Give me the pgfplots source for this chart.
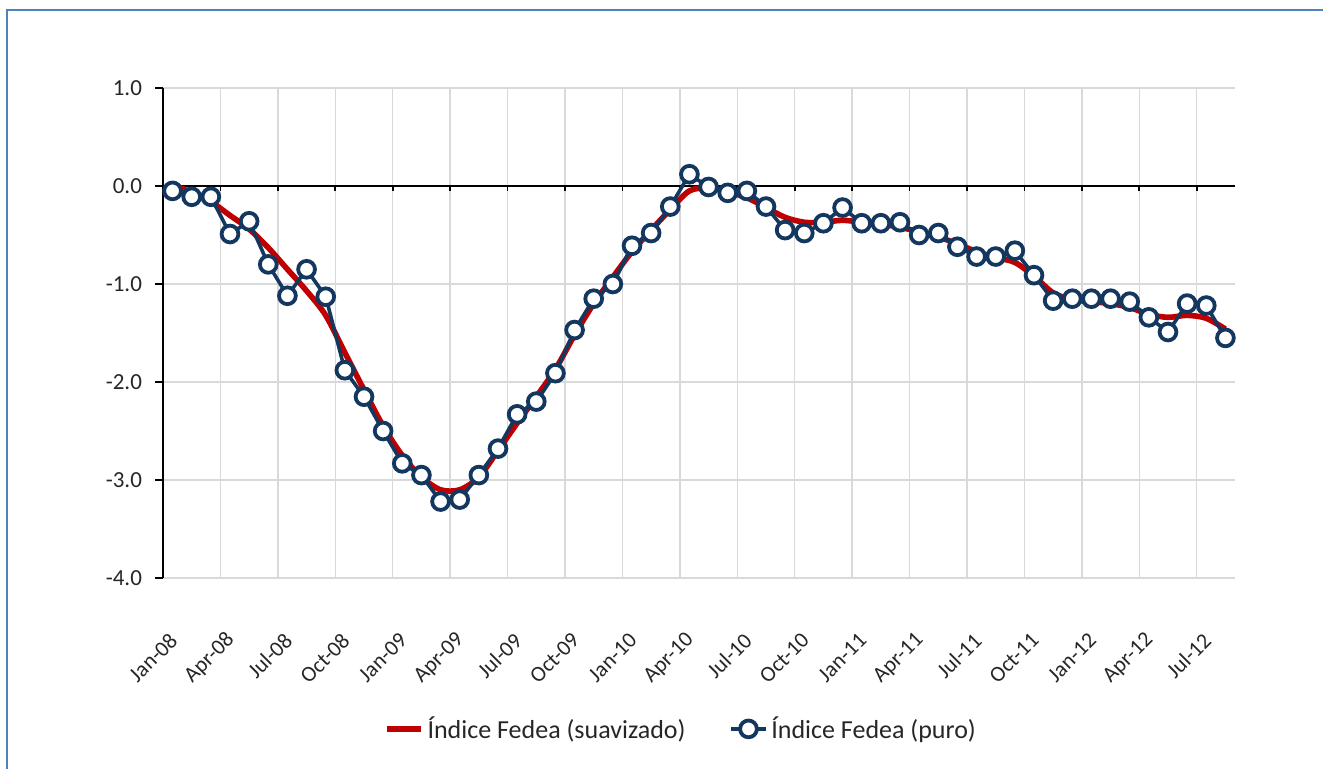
\documentclass[border=0pt]{standalone}
\usepackage{fontspec}
\setmainfont{Carlito}
\usepackage{pgfplots}
\usepackage{pgfplotstable}
\pgfplotsset{compat=1.18}

\definecolor{frameblue}{RGB}{79,129,189}
\definecolor{fedeared}{RGB}{192,0,0}
\definecolor{fedeanavy}{RGB}{20,55,95}
\definecolor{gridgray}{RGB}{217,217,217}
\definecolor{txt}{RGB}{38,38,38}

% month index (0 = Jan-08), raw index, smoothed index
\pgfplotstableread{
m  puro   suav
0  -0.05  0.02
1  -0.11 -0.07
2  -0.11 -0.16
3  -0.49 -0.30
4  -0.36 -0.44
5  -0.80 -0.63
6  -1.12 -0.85
7  -0.85 -1.07
8  -1.13 -1.32
9  -1.88 -1.70
10 -2.15 -2.08
11 -2.50 -2.45
12 -2.83 -2.75
13 -2.95 -2.97
14 -3.22 -3.10
15 -3.20 -3.10
16 -2.95 -2.97
17 -2.68 -2.70
18 -2.33 -2.42
19 -2.20 -2.15
20 -1.91 -1.87
21 -1.47 -1.52
22 -1.15 -1.20
23 -1.00 -0.93
24 -0.61 -0.67
25 -0.48 -0.45
26 -0.21 -0.24
27  0.12 -0.05
28 -0.01 -0.02
29 -0.07 -0.06
30 -0.05 -0.12
31 -0.21 -0.22
32 -0.45 -0.32
33 -0.48 -0.37
34 -0.38 -0.37
35 -0.22 -0.35
36 -0.38 -0.37
37 -0.38 -0.39
38 -0.37 -0.42
39 -0.50 -0.47
40 -0.48 -0.52
41 -0.62 -0.59
42 -0.72 -0.67
43 -0.72 -0.73
44 -0.66 -0.78
45 -0.91 -0.92
46 -1.17 -1.09
47 -1.15 -1.16
48 -1.15 -1.18
49 -1.15 -1.20
50 -1.18 -1.24
51 -1.34 -1.31
52 -1.49 -1.34
53 -1.20 -1.32
54 -1.22 -1.35
55 -1.55 -1.46
}\fedea

\begin{document}
\begin{tikzpicture}
\path[use as bounding box] (0,0) rectangle (661.5pt,384.5pt);
\draw[frameblue, line width=1.2pt] (3.5pt,0) -- (3.5pt,379.5pt) -- (661.5pt,379.5pt);
\begin{axis}[
    at={(81.5pt,95.5pt)}, anchor=south west,
    width=536pt, height=245pt, scale only axis,
    xmin=-0.5, xmax=55.5, ymin=-4, ymax=1,
    axis x line*=bottom, axis y line*=left,
    x axis line style={draw=none},
    y axis line style={black, line width=1pt},
    xtick={0,3,...,54},
    xticklabels={Jan-08,Apr-08,Jul-08,Oct-08,Jan-09,Apr-09,Jul-09,Oct-09,Jan-10,Apr-10,Jul-10,Oct-10,Jan-11,Apr-11,Jul-11,Oct-11,Jan-12,Apr-12,Jul-12},
    xtick style={draw=none},
    xticklabel shift=23pt,
    xticklabel style={xshift=3pt, rotate=45, anchor=east, font=\fontsize{11}{13}\selectfont, text=txt},
    extra x ticks={2.5,5.5,8.5,11.5,14.5,17.5,20.5,23.5,26.5,29.5,32.5,35.5,38.5,41.5,44.5,47.5,50.5,53.5},
    extra x tick labels={},
    extra x tick style={grid=major},
    ytick={-4,-3,-2,-1,0,1},
    ymajorgrids,
    major grid style={gridgray, line width=0.75pt},
    ytick style={black, line width=0.8pt},
    tick align=outside,
    major tick length=4pt,
    yticklabel style={xshift=-3pt, font=\fontsize{11.5}{13}\selectfont, text=txt},
    /pgf/number format/.cd, fixed, fixed zerofill, precision=1, assume math mode=true,
    /pgfplots/.cd,
    legend style={at={(0.484,-0.308)}, anchor=center, draw=none, fill=none,
        legend columns=2, font=\fontsize{13}{15}\selectfont, text=txt,
        /tikz/every even column/.append style={column sep=20pt}},
    clip=false,
]
\draw[black, line width=1pt] (axis cs:-0.5,0) -- (axis cs:55.5,0);
\pgfplotsinvokeforeach{2.5,5.5,8.5,11.5,14.5,17.5,20.5,23.5,26.5,29.5,32.5,35.5,38.5,41.5,44.5,47.5,50.5,53.5}{
  \draw[black, line width=0.8pt] (axis cs:#1,0) -- ([yshift=-2.5pt]axis cs:#1,0);
}
\addplot[fedeared, line width=2.8pt, smooth, no markers] table[x=m, y=suav] {\fedea};
\addlegendentry{Índice Fedea (suavizado)}
\addplot[fedeanavy, line width=1.8pt, mark=*, mark size=4.2pt,
    mark options={fill=white, draw=fedeanavy, line width=1.9pt}] table[x=m, y=puro] {\fedea};
\addlegendentry{Índice Fedea (puro)}
\end{axis}
\end{tikzpicture}
\end{document}
